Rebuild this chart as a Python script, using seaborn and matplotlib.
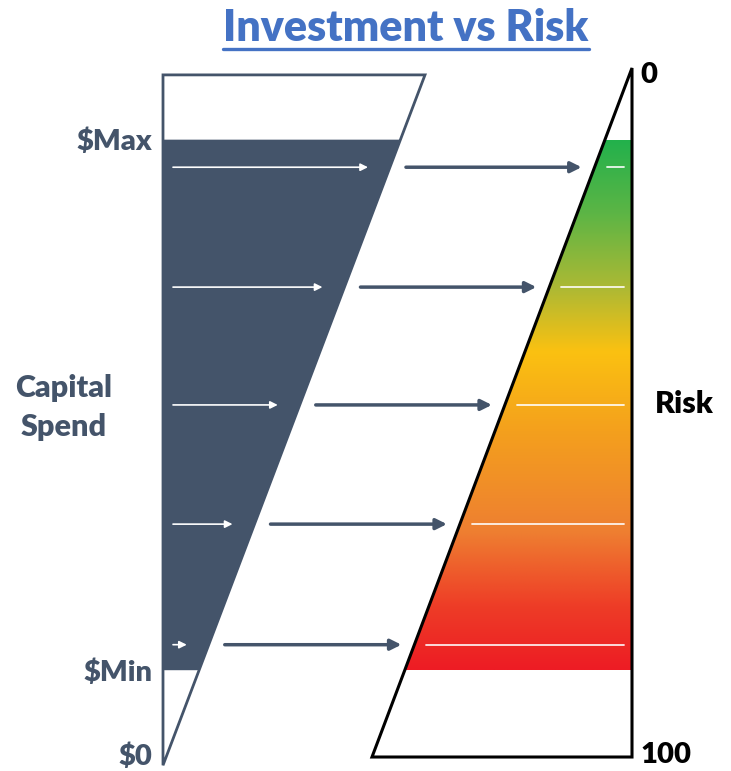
import matplotlib
matplotlib.use("Agg")
import matplotlib.pyplot as plt
from matplotlib.patches import Polygon
from matplotlib.lines import Line2D
from matplotlib.colors import LinearSegmentedColormap
import seaborn as sns
import numpy as np

# risk scale (0 = top of the triangle, 100 = bottom)
risk_ends = [0, 100]
risk_end_labels = ["0", "100"]

# band of capital spend, expressed on the risk scale
spend_band = [10.4, 87.4]
spend_labels = ["$Max", "$Min", "$0"]
spend_label_risk = [10.7, 87.7, 100.0]

# the five arrows (risk level of each)
arrow_risk = [14.4, 31.8, 48.9, 66.2, 83.7]

# risk gradient, green -> yellow -> orange -> red
grad_stops = [0.0, 0.14, 0.28, 0.40, 0.55, 0.74, 0.88, 1.0]
grad_colors = ["#22B14C", "#5DB545", "#ADB934", "#FBC111",
               "#F4A01D", "#EE7F31", "#EE3D27", "#ED1C24"]

title = "Investment vs Risk"
side_label = "Capital\nSpend"
risk_label = "Risk"

dark = "#44546A"
blue = "#4472C4"

sns.set_style("white")
plt.rcParams["font.family"] = ["Lato", "DejaVu Sans"]

fig = plt.figure(figsize=(7.31, 7.71), dpi=100)
ax = fig.add_axes([0, 0, 1, 1])
ax.set_xlim(0, 731)
ax.set_ylim(102.03, -9.87)
ax.axis("off")

# left shape geometry
lx0, lx1 = 163, 425
ltop, lbot = 1.0, 101.2


def left_edge(r):
    return lx1 - (r - ltop) / (lbot - ltop) * (lx1 - lx0)


# right triangle geometry
rx_right, rx_left = 632, 372


def hyp(r):
    return rx_right - r / 100 * (rx_right - rx_left)


# left shape outline and dark fill
b0, b1 = spend_band
ax.add_patch(Polygon([(lx0, b0), (left_edge(b0), b0), (left_edge(b1), b1), (lx0, b1)],
                     closed=True, facecolor=dark, edgecolor="none", zorder=1))
ax.add_patch(Polygon([(lx0, ltop), (lx1, ltop), (lx0, lbot)], closed=True,
                     facecolor="none", edgecolor=dark, lw=2, zorder=2))

# gradient inside the right triangle
cmap = LinearSegmentedColormap.from_list("risk", list(zip(grad_stops, grad_colors)))
grad = np.linspace(0, 1, 256).reshape(-1, 1)
img = ax.imshow(grad, cmap=cmap, aspect="auto", extent=(rx_left, rx_right, b1, b0),
                interpolation="bilinear", zorder=1)
clip = Polygon([(hyp(b0), b0), (rx_right, b0), (rx_right, b1), (hyp(b1), b1)],
               closed=True, transform=ax.transData, facecolor="none", edgecolor="none")
ax.add_patch(clip)
img.set_clip_path(clip)
ax.set_xlim(0, 731)
ax.set_ylim(102.03, -9.87)

ax.add_patch(Polygon([(rx_right, risk_ends[0]), (rx_right, risk_ends[1]), (rx_left, risk_ends[1])],
                     closed=True, facecolor="none", edgecolor="black", lw=2.2,
                     joinstyle="miter", zorder=3))

# arrows
for r in arrow_risk:
    e = left_edge(r)
    ax.annotate("", xy=(e - 22, r), xytext=(173, r),
                arrowprops=dict(arrowstyle="-|>", color="white", lw=1.2,
                                mutation_scale=11, shrinkA=0, shrinkB=0), zorder=4)
    ax.annotate("", xy=(hyp(r) - 13, r), xytext=(e + 16, r),
                arrowprops=dict(arrowstyle="-|>", color=dark, lw=2.5,
                                mutation_scale=16, shrinkA=0, shrinkB=0), zorder=4)
    ax.plot([hyp(r) + 12, 624], [r, r], color="white", lw=1.3, alpha=0.9, zorder=2)

# labels on the left
for lab, r in zip(spend_labels, spend_label_risk):
    ax.text(152, r, lab, ha="right", va="center", fontsize=21,
            fontweight="heavy", color=dark)
ax.text(64, 49.3, side_label, ha="center", va="center", fontsize=22,
        fontweight="heavy", color=dark, linespacing=1.5)

# labels on the right
for lab, r, off in zip(risk_end_labels, risk_ends, [1.0, -0.3]):
    ax.text(640, r + off, lab, ha="left", va="center", fontsize=21,
            fontweight="heavy", color="black")
ax.text(655, 48.8, risk_label, ha="left", va="center", fontsize=22,
        fontweight="heavy", color="black")

# underlined title
t = fig.text(406 / 731, 1 - 28 / 771, title, ha="center", va="center",
             fontsize=31, fontweight="heavy", color=blue)
fig.canvas.draw()
bb = t.get_window_extent()
fig.add_artist(Line2D([bb.x0, bb.x1], [771 - 49, 771 - 49], transform=None,
                      color=blue, lw=2.4))

fig.savefig("out.png", dpi=100)
